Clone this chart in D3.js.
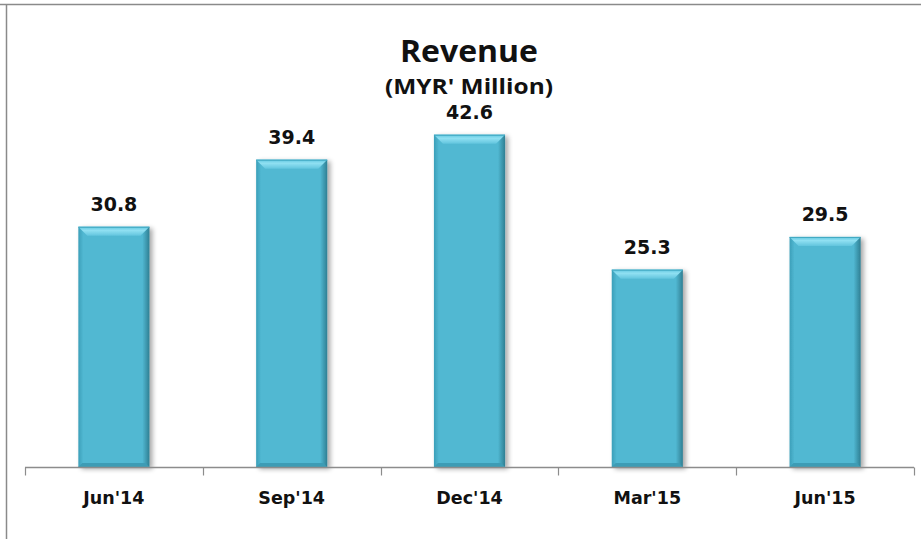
<!DOCTYPE html>
<html>
<head>
<meta charset="utf-8">
<script src="https://cdn.jsdelivr.net/npm/d3@7"></script>
<style>
  body { margin: 0; background: #fff; }
  svg { display: block; }
</style>
</head>
<body>
<div id="chart"></div>
<script>
// data
const quarters = ["Jun'14", "Sep'14", "Dec'14", "Mar'15", "Jun'15"];
const revenue = [30.8, 39.4, 42.6, 25.3, 29.5];
const valueLabels = ["30.8", "39.4", "42.6", "25.3", "29.5"];

const width = 921, height = 539;
const margin = {top: 77, right: 7, bottom: 72, left: 25};

const svg = d3.select("#chart").append("svg")
  .attr("width", width)
  .attr("height", height);

// frame: only top and left edges show
svg.append("line").attr("x1", 0).attr("x2", width).attr("y1", 4.5).attr("y2", 4.5)
  .attr("stroke", "#8a8a8a").attr("stroke-width", 1.5);
svg.append("line").attr("x1", 6.5).attr("x2", 6.5).attr("y1", 4).attr("y2", height)
  .attr("stroke", "#8a8a8a").attr("stroke-width", 1.5);

const x = d3.scaleBand()
  .domain(quarters)
  .range([margin.left, width - margin.right])
  .paddingInner(0.6)
  .paddingOuter(0.3);

const y = d3.scaleLinear()
  .domain([0, 50])
  .range([height - margin.bottom, margin.top]);

// drop shadow filter
const defs = svg.append("defs");
const f = defs.append("filter").attr("id", "shadow")
  .attr("x", "-20%").attr("y", "-10%").attr("width", "150%").attr("height", "130%");
f.append("feGaussianBlur").attr("in", "SourceAlpha").attr("stdDeviation", 2.5);
f.append("feOffset").attr("dx", 3).attr("dy", 2).attr("result", "b");
f.append("feComponentTransfer").append("feFuncA").attr("type", "linear").attr("slope", 0.35);
const m = f.append("feMerge");
m.append("feMergeNode");
m.append("feMergeNode").attr("in", "SourceGraphic");

const sideGrad = defs.append("linearGradient").attr("id", "side")
  .attr("x1", 0).attr("x2", 1).attr("y1", 0).attr("y2", 0);
sideGrad.append("stop").attr("offset", "0%").attr("stop-color", "#3b9fb9");
sideGrad.append("stop").attr("offset", "7%").attr("stop-color", "#51b8d2");
sideGrad.append("stop").attr("offset", "90%").attr("stop-color", "#51b8d2");
sideGrad.append("stop").attr("offset", "100%").attr("stop-color", "#2f7f93");

const topGrad = defs.append("linearGradient").attr("id", "topg")
  .attr("x1", 0).attr("x2", 0).attr("y1", 0).attr("y2", 1);
topGrad.append("stop").attr("offset", "0%").attr("stop-color", "#5fc6df");
topGrad.append("stop").attr("offset", "40%").attr("stop-color", "#90e0f2");
topGrad.append("stop").attr("offset", "100%").attr("stop-color", "#62c5de");

const data = quarters.map((q, i) => ({q: q, v: revenue[i], label: valueLabels[i]}));

const bars = svg.append("g").selectAll("g")
  .data(data)
  .join("g")
  .attr("filter", "url(#shadow)");

bars.append("rect")
  .attr("x", d => x(d.q))
  .attr("y", d => y(d.v))
  .attr("width", x.bandwidth())
  .attr("height", d => y(0) - y(d.v))
  .attr("fill", "url(#side)");

// top bevel
const bev = 9;
bars.append("path")
  .attr("d", d => {
    const x0 = x(d.q), x1 = x0 + x.bandwidth(), t = y(d.v);
    return `M${x0},${t}L${x1},${t}L${x1 - bev},${t + bev}L${x0 + bev},${t + bev}Z`;
  })
  .attr("fill", "url(#topg)");
bars.append("line")
  .attr("x1", d => x(d.q)).attr("x2", d => x(d.q) + x.bandwidth())
  .attr("y1", d => y(d.v) + 0.5).attr("y2", d => y(d.v) + 0.5)
  .attr("stroke", "#3fa6c0").attr("stroke-width", 1);
// bottom shade
bars.append("path")
  .attr("d", d => {
    const x0 = x(d.q), x1 = x0 + x.bandwidth(), b = y(0);
    return `M${x0},${b}L${x1},${b}L${x1 - 4},${b - 4}L${x0 + 4},${b - 4}Z`;
  })
  .attr("fill", "#3c9cb5");

// value labels
svg.append("g").selectAll("text")
  .data(data)
  .join("text")
  .attr("x", d => x(d.q) + x.bandwidth() / 2)
  .attr("y", d => y(d.v) - 16)
  .attr("text-anchor", "middle")
  .attr("font-family", "DejaVu Sans")
  .attr("font-weight", "bold")
  .attr("font-size", 19)
  .attr("fill", "#111")
  .text(d => d.label);

// category axis
const xAxis = svg.append("g")
  .attr("transform", `translate(0,${y(0) + 0.5})`);
xAxis.append("line")
  .attr("x1", margin.left).attr("x2", width - margin.right)
  .attr("stroke", "#8c8c8c").attr("stroke-width", 1.5);
const edges = d3.range(quarters.length + 1).map(i =>
  margin.left + i * (width - margin.left - margin.right) / quarters.length);
xAxis.selectAll("line.tick")
  .data(edges)
  .join("line")
  .attr("class", "tick")
  .attr("x1", d => Math.round(d) + 0.5).attr("x2", d => Math.round(d) + 0.5)
  .attr("y1", 0).attr("y2", 8)
  .attr("stroke", "#8c8c8c").attr("stroke-width", 1.2);
xAxis.selectAll("text")
  .data(quarters)
  .join("text")
  .attr("x", d => x(d) + x.bandwidth() / 2)
  .attr("y", 36)
  .attr("text-anchor", "middle")
  .attr("font-family", "DejaVu Sans")
  .attr("font-weight", "bold")
  .attr("font-size", 17.5)
  .attr("fill", "#111")
  .text(d => d);

// titles
svg.append("text")
  .attr("x", 469).attr("y", 62)
  .attr("text-anchor", "middle")
  .attr("font-family", "Open Sans")
  .attr("font-weight", "bold")
  .attr("font-size", 30)
  .attr("fill", "#111")
  .attr("textLength", 138)
  .attr("lengthAdjust", "spacingAndGlyphs")
  .text("Revenue");
svg.append("text")
  .attr("x", 469).attr("y", 94)
  .attr("text-anchor", "middle")
  .attr("font-family", "Open Sans")
  .attr("font-weight", "bold")
  .attr("font-size", 21)
  .attr("fill", "#111")
  .attr("textLength", 168)
  .attr("lengthAdjust", "spacingAndGlyphs")
  .text("(MYR' Million)");
</script>
</body>
</html>
